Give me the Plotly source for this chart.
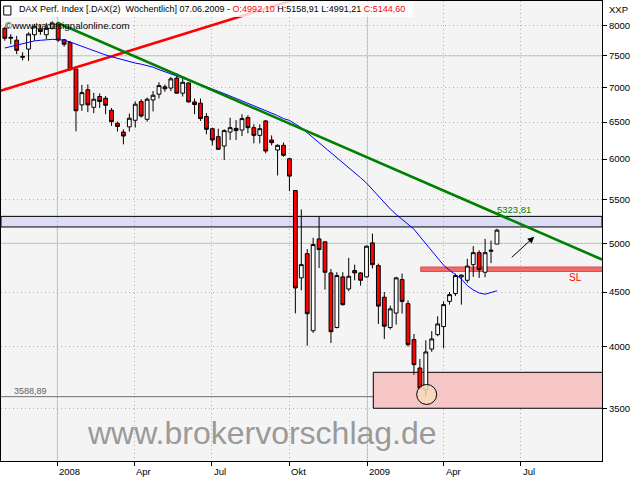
import math
import pandas as pd
import plotly.graph_objects as go

# ---------------- data ----------------
week_dates = pd.date_range("2007-10-31", periods=84, freq="7D")

opens = [7960, 7790, 7758, 7475, 7610, 7850, 7950, 7850, 7960, 8050,
         7765, 7720, 7287, 6745, 6970, 6710, 6868, 6842, 6667, 6483,
         6360, 6432, 6524, 6794, 6538, 6818, 6903, 7014, 6995, 7147,
         6918, 7073, 6788, 6770, 6577, 6407, 6297, 6171, 6360, 6411,
         6388, 6562, 6421, 6315, 6515, 6252, 6118, 6180, 6004, 5605,
         4640, 4890, 4139, 5048, 5016, 4690, 4168, 4650, 4530, 4714,
         4690, 4650, 5005, 4765, 4450, 4168, 4300, 4623, 4388, 4060,
         3818, 3643, 3978, 4104, 4176, 4410, 4485, 4650, 4616, 4775,
         4900, 4697, 4915, 4992.10]
highs = [7985, 7860, 7830, 7558, 7890, 8035, 8017, 8050, 8080, 8070,
         7775, 7745, 7290, 7043, 7050, 6923, 6915, 6875, 6700, 6505,
         6398, 6620, 6794, 6828, 6853, 6950, 7083, 7050, 7165, 7220,
         7147, 7083, 6838, 6838, 6625, 6421, 6407, 6398, 6560, 6527,
         6610, 6595, 6468, 6468, 6527, 6315, 6193, 6216, 6010, 5610,
         5380, 4938, 5060, 5300, 5020, 4730, 4697, 4697, 4845, 4775,
         4697, 4975, 5106, 4785, 4500, 4370, 4650, 4683, 4420, 4110,
         3894, 4054, 4135, 4270, 4410, 4500, 4683, 4675, 4835, 4970,
         4925, 5048, 5030, 5158.91]
lows = [7750, 7690, 7528, 7427, 7420, 7750, 7850, 7777, 7940, 7730,
        7650, 7260, 6370, 6660, 6640, 6625, 6700, 6610, 6445, 6367,
        6193, 6367, 6422, 6562, 6505, 6650, 6840, 6940, 6950, 6912,
        6868, 6778, 6610, 6515, 6329, 6180, 6118, 5987, 6252, 6252,
        6306, 6343, 6207, 6207, 6075, 6180, 5790, 6030, 5597, 4297,
        4517, 4008, 4120, 4740, 4524, 4030, 4160, 4370, 4508, 4616,
        4563, 4645, 4735, 4200, 4066, 4150, 4194, 4295, 4000, 3763,
        3643, 3589, 3955, 4090, 3985, 4379, 4462, 4379, 4590, 4650,
        4640, 4646, 4790, 4991.21]
closes = [7790, 7805, 7590, 7490, 7862, 7995, 7905, 7960, 8050, 7760,
          7690, 7280, 6660, 6926, 6745, 6828, 6795, 6740, 6505, 6437,
          6306, 6553, 6755, 6585, 6828, 6887, 7032, 6984, 7135, 6918,
          7083, 6788, 6750, 6548, 6398, 6252, 6127, 6380, 6421, 6380,
          6548, 6421, 6315, 6407, 6105, 6216, 6180, 6048, 5782, 4540,
          4775, 4294, 4987, 4933, 4697, 4130, 4663, 4379, 4656, 4690,
          4616, 4969, 4775, 4365, 4180, 4339, 4640, 4410, 4016, 3846,
          3656, 3953, 4066, 4200, 4379, 4475, 4663, 4667, 4760, 4900,
          4724, 4900, 4925, 5144.60]
ma_values = [7628, 7653, 7678, 7701, 7725, 7746, 7756, 7768, 7772, 7766,
             7758, 7728, 7691, 7658, 7625, 7582, 7545, 7514, 7486, 7457,
             7431, 7406, 7383, 7366, 7347, 7318, 7279, 7244, 7208, 7177,
             7146, 7114, 7081, 7049, 7017, 6982, 6948, 6912, 6876, 6841,
             6805, 6770, 6736, 6703, 6670, 6636, 6591, 6548, 6523, 6472,
             6419, 6351, 6284, 6217, 6150, 6084, 6019, 5955, 5891, 5827,
             5762, 5696, 5616, 5533, 5456, 5386, 5322, 5265, 5208, 5155,
             5074, 4993, 4915, 4841, 4769, 4717, 4672, 4629, 4563, 4521,
             4491, 4479, 4495, 4513]

# user-drawn lines / zones
red_trend_dates = ["2007-10-01", "2008-11-01"]
red_trend_values = [6858, 8589]
green_trend_dates = ["2008-01-01", "2009-06-05", "2009-10-05"]
green_trend_values = [8057, 5323.81, 4828]
resistance_zone = [5180, 5300]
sl_zone = [4705, 4750]
sl_start = "2009-03-05"
support_zone = [3500, 3783]
support_start = "2009-01-08"
low_value = 3588.89
low_date = "2009-03-12"
h_lines = [7500, 5000]
year_lines = ["2008-01-01", "2009-01-01"]

y_ticks = [3500, 4000, 4500, 5000, 5500, 6000, 6500, 7000, 7500, 8000]
x_tick_dates = ["2008-01-01", "2008-04-01", "2008-07-01", "2008-10-01",
                "2009-01-01", "2009-04-01", "2009-07-01"]
x_tick_labels = ["2008", "Apr", "Jul", "Okt", "2009", "Apr", "Jul"]

X_RANGE = ["2007-10-26 12:00", "2009-10-05"]
Y_RANGE = [3122.7, 8444]

FONT = "Liberation Sans, Arial, sans-serif"


def fmt(v):
    return f"{v:.2f}".replace(".", ",")


fig = go.Figure()

# trend lines
fig.add_trace(go.Scatter(x=red_trend_dates, y=red_trend_values, mode="lines",
                         line=dict(color="#ff0000", width=2.6), hoverinfo="skip"))
fig.add_trace(go.Scatter(x=list(week_dates), y=ma_values, mode="lines",
                         line=dict(color="#0000ff", width=1), hoverinfo="skip"))
fig.add_trace(go.Scatter(x=green_trend_dates, y=green_trend_values, mode="lines",
                         line=dict(color="#008000", width=2.6), hoverinfo="skip"))

fig.add_trace(go.Candlestick(
    x=list(week_dates), open=opens, high=highs, low=lows, close=closes,
    increasing=dict(line=dict(color="black", width=1), fillcolor="white"),
    decreasing=dict(line=dict(color="black", width=1), fillcolor="#ff0000"),
    whiskerwidth=0, hoverinfo="skip"))

# circle at the low
fig.add_trace(go.Scatter(x=[low_date], y=[3606], mode="markers",
                         marker=dict(size=20, color="rgba(248,220,188,0.82)",
                                     line=dict(color="black", width=1)),
                         hoverinfo="skip"))

shapes = []
for v in h_lines:
    shapes.append(dict(type="line", xref="paper", x0=0, x1=1, yref="y", y0=v, y1=v,
                       line=dict(color="#b2d4b2", width=1), layer="between"))
for d in year_lines:
    shapes.append(dict(type="line", xref="x", x0=d, x1=d, yref="paper", y0=0, y1=1,
                       line=dict(color="#b2d4b2", width=1), layer="between"))
shapes.append(dict(type="rect", xref="paper", x0=0, x1=1, yref="y",
                   y0=resistance_zone[0], y1=resistance_zone[1],
                   fillcolor="#dcdcf4", line=dict(color="black", width=1), layer="between"))
shapes.append(dict(type="rect", xref="x", x0=support_start, x1="2009-10-20", yref="y",
                   y0=support_zone[0], y1=support_zone[1],
                   fillcolor="#f6c6c6", line=dict(color="black", width=1), layer="between"))
shapes.append(dict(type="line", xref="paper", x0=0, x1=1, yref="y", y0=low_value, y1=low_value,
                   line=dict(color="#6e6e6e", width=1), layer="between"))
shapes.append(dict(type="rect", xref="x", x0=sl_start, x1="2009-10-20", yref="y",
                   y0=sl_zone[0], y1=sl_zone[1],
                   fillcolor="#f46a6a", line=dict(color="#e04848", width=1), layer="between"))
# header box
shapes.append(dict(type="rect", xref="paper", x0=0, x1=0.6855, yref="paper",
                   y0=0.9652, y1=1.0, fillcolor="rgba(255,255,255,0.8)",
                   line=dict(width=0), layer="above"))
# window icon
shapes.append(dict(type="rect", xref="paper", x0=0.0045, x1=0.0165, yref="paper",
                   y0=0.9695, y1=0.9890, fillcolor="rgba(0,0,0,0)",
                   line=dict(color="black", width=1), layer="above"))

annotations = []
for d, t in zip(x_tick_dates, x_tick_labels):
    annotations.append(dict(x=d, xref="x", y=0, yref="paper", text=t, showarrow=False,
                            xanchor="left", yanchor="top", xshift=0, yshift=-3,
                            font=dict(size=9.5, color="black", family=FONT)))

header = (f"DAX Perf. Index [.DAX(2)  Wöchentlich] 07.06.2009 - "
          f"<span style='color:#ff0000'>O:{fmt(opens[-1])}</span> "
          f"H:{fmt(highs[-1])} L:{fmt(lows[-1])} "
          f"<span style='color:#ff0000'>C:{fmt(closes[-1])}</span>")
annotations.append(dict(x=0.0266, xref="paper", y=0.9826, yref="paper", text=header,
                        showarrow=False, xanchor="left", yanchor="middle",
                        font=dict(size=9, color="black", family=FONT)))
annotations.append(dict(x=0.0033, xref="paper", y=0.9478, yref="paper",
                        text="©www.tradesignalonline.com", showarrow=False,
                        xanchor="left", yanchor="middle",
                        font=dict(size=9.7, color="black", family=FONT)))
annotations.append(dict(x=1.008, xref="paper", y=0.9826, yref="paper", text="XXP",
                        showarrow=False, xanchor="left", yanchor="middle",
                        font=dict(size=9.5, color="black", family=FONT)))
annotations.append(dict(x="2009-06-23", xref="x", y=math.log10(5377), yref="y",
                        text=fmt(green_trend_values[1]), showarrow=False,
                        xanchor="center",
                        font=dict(size=9.5, color="#008000", family=FONT)))
annotations.append(dict(x="2009-09-04", xref="x", y=math.log10(4641), yref="y",
                        text="SL", showarrow=False, xanchor="center",
                        font=dict(size=10, color="#ff0000", family=FONT)))
annotations.append(dict(x=0.0495, xref="paper", y=math.log10(3633), yref="y",
                        text=fmt(low_value), showarrow=False, xanchor="center",
                        font=dict(size=9, color="#606060", family=FONT)))
annotations.append(dict(x="2009-07-17", xref="x", y=math.log10(5072), yref="y",
                        text="", showarrow=True, ax=-24, ay=22,
                        arrowhead=2, arrowsize=1.3, arrowwidth=1, arrowcolor="black"))
annotations.append(dict(x=0.4343, xref="paper", y=0.0609, yref="paper",
                        text="www.brokervorschlag.de", showarrow=False,
                        xanchor="center", yanchor="middle",
                        font=dict(size=32, color="#9a9a9a", family=FONT)))

fig.update_layout(
    width=640, height=480,
    margin=dict(l=1, r=38, t=1, b=19, autoexpand=False),
    paper_bgcolor="white", plot_bgcolor="#f4f4f4",
    showlegend=False, hovermode=False,
    boxgap=0.2, boxgroupgap=0.2,
    font=dict(family=FONT, size=9.5, color="black"),
    shapes=shapes, annotations=annotations,
    xaxis=dict(type="date", range=X_RANGE, rangeslider=dict(visible=False),
               tickvals=x_tick_dates, showticklabels=False,
               ticks="outside", ticklen=4, tickcolor="black", tickwidth=1,
               showgrid=True, gridcolor="#9cbf9c", griddash="1px,3px", gridwidth=1,
               showline=True, linecolor="black", linewidth=1, mirror=True,
               zeroline=False, fixedrange=True),
    yaxis=dict(type="log", range=[math.log10(Y_RANGE[0]), math.log10(Y_RANGE[1])],
               side="right", tickvals=y_ticks, ticktext=[str(v) for v in y_ticks],
               ticks="outside", ticklen=4, tickcolor="black", tickwidth=1,
               tickfont=dict(size=9.5, color="black", family=FONT),
               showgrid=True, gridcolor="#9cbf9c", griddash="1px,3px", gridwidth=1,
               showline=True, linecolor="black", linewidth=1, mirror=True,
               zeroline=False, automargin=False, fixedrange=True),
)

fig.write_html(
    "out.html",
    config={"displayModeBar": False, "staticPlot": True},
    post_script="document.body.style.margin='0';document.body.style.padding='0';"
                "document.documentElement.style.overflow='hidden';",
)
